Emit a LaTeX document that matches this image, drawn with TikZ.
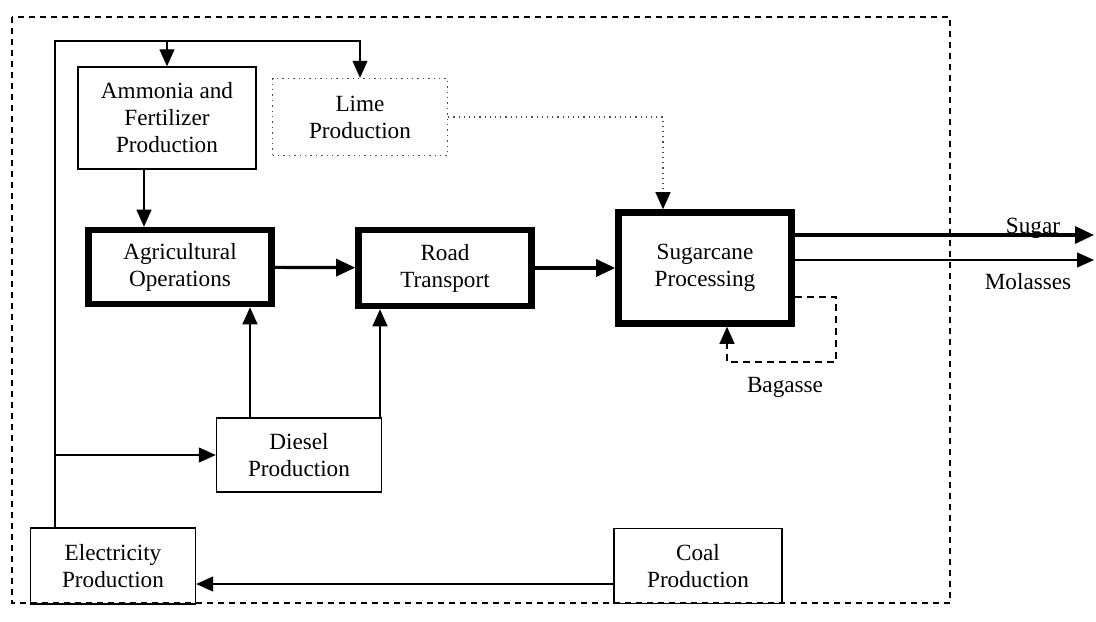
\documentclass[tikz,border=0pt]{standalone}
\usepackage{fontspec}
\setmainfont{Liberation Serif}
\usetikzlibrary{arrows.meta}

\begin{document}
\begin{tikzpicture}[x=0.5pt, y=-0.5pt,
  every node/.style={font=\fontsize{11.6}{13.5}\selectfont, align=center, inner sep=0pt},
  box/.style={draw, line width=0.7pt},
  thickbox/.style={draw, line width=3.3pt},
  limebox/.style={draw=black!70, dotted, line width=0.7pt},
  flow/.style={line width=0.6pt, -{Triangle[length=8.5pt, width=7.5pt]}},
  mainflow/.style={line width=1.6pt, -{Triangle[length=9.5pt, width=8.5pt]}},
  dotflow/.style={line width=0.6pt, draw=black!70, dotted,
    -{Triangle[length=8.5pt, width=7.5pt, color=black]}},
  bagflow/.style={flow, dash pattern=on 3.5pt off 2.5pt}]
  \useasboundingbox (0,0) rectangle (1096,621);
  % system boundary
  \draw[line width=0.7pt, dash pattern=on 3pt off 2.5pt] (12,17) rectangle (950,603);

  \node[box, minimum width=89pt, minimum height=51pt] (amm) at (167,118)
    {Ammonia and\\Fertilizer\\Production};
  \node[limebox, minimum width=87.5pt, minimum height=38.5pt] (lime) at (360,117)
    {Lime\\Production};
  \node[thickbox, minimum width=91.5pt, minimum height=37pt] (agri) at (180,267)
    {Agricultural\\Operations};
  \node[thickbox, minimum width=86.5pt, minimum height=38pt] (road) at (445,268)
    {Road\\Transport};
  \node[thickbox, minimum width=86.5pt, minimum height=55.5pt] (sugar) at (705,268)
    {Sugarcane\\Processing};
  \node[box, minimum width=82.5pt, minimum height=37pt] (diesel) at (299,455)
    {Diesel\\Production};
  \node[box, minimum width=82.5pt, minimum height=38pt] (elec) at (113,566)
    {Electricity\\Production};
  \node[box, minimum width=84pt, minimum height=37.5pt] (coal) at (698,566)
    {Coal\\Production};

  % electricity supply line
  \coordinate (busL) at (55,41);
  \draw[flow] (elec.north -| busL) -- (busL) -| (lime.north);
  \draw[flow] (busL -| amm.north) -- (amm.north);
  \draw[flow] (busL |- diesel.west) -- (diesel.west);

  \draw[flow] ([xshift=-11.5pt]amm.south) -- ([xshift=-11.5pt]amm.south |- agri.north);
  \draw[dotflow] (lime.east) -| ([xshift=-21pt]sugar.north);
  \draw[mainflow] (agri) -- (road);
  \draw[mainflow] (road) -- (sugar);
  \draw[flow] ([xshift=35pt]agri.south |- diesel.north) -- ([xshift=35pt]agri.south);
  \draw[flow] ([xshift=-32.5pt]road.south |- diesel.north) -- ([xshift=-32.5pt]road.south);
  \draw[flow] ([yshift=-9pt]coal.west) -- ([yshift=-9pt]elec.east);

  % products
  \coordinate (sugarout) at (1094,235);
  \coordinate (molout) at (1094,260);
  \draw[mainflow] (sugar.east |- sugarout) -- (sugarout);
  \draw[flow] (sugar.east |- molout) -- (molout);
  \node[anchor=base] (sugarlbl) at (1033,233) {Sugar};
  \node (mollbl) at (1028,282) {Molasses};

  % bagasse recycle
  \coordinate (bagR) at (836,362);
  \draw[bagflow] ([yshift=-14.5pt]sugar.east) -| (bagR) -| ([xshift=11pt]sugar.south);
  \node (baglbl) at (785,387) {Bagasse};
\end{tikzpicture}
\end{document}
